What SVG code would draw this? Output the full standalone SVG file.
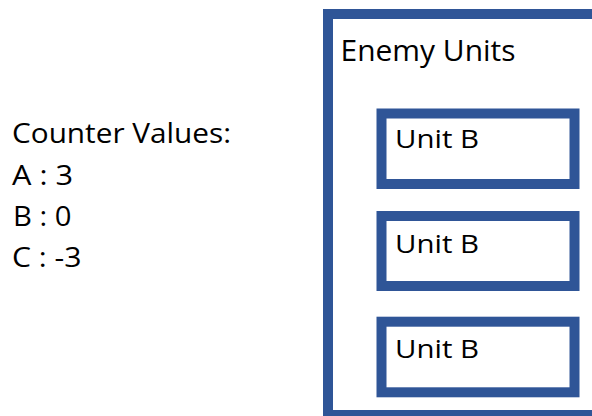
<svg xmlns="http://www.w3.org/2000/svg" width="592" height="416" viewBox="0 0 592 416">
  <style>
    .frame { fill: #ffffff; stroke: #2F5597; stroke-width: 10; }
    .label { font-family: "Open Sans", "Liberation Sans", Arial, sans-serif; fill: #000000; }
    .legend { font-size: 27px; }
    .title { font-size: 29.5px; }
    .unit { font-size: 25.5px; }
  </style>
  <rect width="592" height="416" fill="#ffffff"/>

  <g id="counter-values">
    <text class="label legend" x="12" y="143" textLength="219" lengthAdjust="spacingAndGlyphs">Counter Values:</text>
    <text class="label legend" x="12" y="185" textLength="61" lengthAdjust="spacingAndGlyphs">A : 3</text>
    <text class="label legend" x="13" y="226" textLength="58.5" lengthAdjust="spacingAndGlyphs">B : 0</text>
    <text class="label legend" x="12" y="267" textLength="69.5" lengthAdjust="spacingAndGlyphs">C : -3</text>
  </g>

  <g id="enemy-units">
    <rect class="frame" x="328" y="14" width="300" height="401" stroke-width="9.5"/>
    <text class="label title" x="340.5" y="60.5" textLength="175" lengthAdjust="spacingAndGlyphs">Enemy Units</text>
  </g>

  <g id="unit-b-1">
    <rect class="frame" x="381.5" y="113.5" width="193" height="70.5"/>
    <text class="label unit" x="395" y="148.3" textLength="84" lengthAdjust="spacingAndGlyphs">Unit B</text>
  </g>

  <g id="unit-b-2">
    <rect class="frame" x="381.5" y="216" width="193" height="70"/>
    <text class="label unit" x="395" y="253.3" textLength="84" lengthAdjust="spacingAndGlyphs">Unit B</text>
  </g>

  <g id="unit-b-3">
    <rect class="frame" x="381.5" y="321.7" width="193" height="70.6"/>
    <text class="label unit" x="395" y="358.3" textLength="84" lengthAdjust="spacingAndGlyphs">Unit B</text>
  </g>

  <g id="connectors"/>
</svg>
